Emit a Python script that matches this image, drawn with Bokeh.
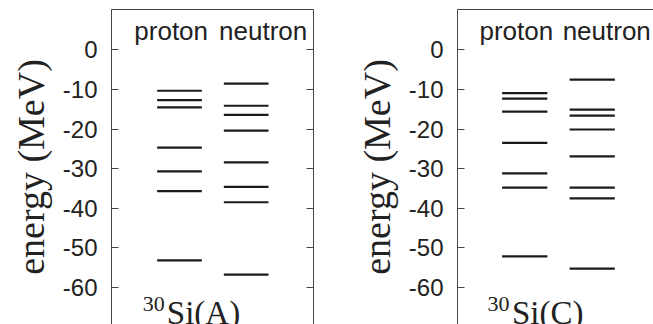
from bokeh.plotting import figure
from bokeh.models import (Range1d, LinearAxis, FixedTicker, Label, ColumnDataSource,
                          PrintfTickFormatter)
from bokeh.layouts import row
from bokeh.embed import file_html
from bokeh.resources import INLINE

# ---- data (energies in MeV) ----
categories = ["proton", "neutron"]
y_ticks = [0, -10, -20, -30, -40, -50, -60]

si30A_proton = [-10.3, -12.7, -14.5, -24.7, -30.7, -35.7, -53.2]
si30A_neutron = [-8.5, -14.1, -16.4, -20.4, -28.4, -34.6, -38.5, -56.8]
si30C_proton = [-10.9, -12.3, -15.6, -23.5, -31.2, -34.8, -52.2]
si30C_neutron = [-7.5, -15.1, -16.6, -20.1, -26.9, -34.8, -37.5, -55.3]

panel_tags = ["A", "C"]

TEXT = "#222222"
AXIS = "#444444"
SANS = "Liberation Sans"
SERIF = "Liberation Serif"
Y_RANGE = (-69.41, 10.24)
HALF = 0.335
H = 324


def make_panel(proton, neutron, tag, width, min_left, min_right, xr, right_axis, neutron_x):
    p = figure(width=width, height=H, output_backend="svg", toolbar_location=None,
               x_range=Range1d(*xr), y_range=Range1d(*Y_RANGE),
               x_axis_location=None, y_axis_location=None,
               min_border_left=min_left, min_border_right=min_right,
               min_border_top=9, min_border_bottom=0)
    p.outline_line_color = None
    p.grid.visible = False
    p.background_fill_color = "white"
    p.border_fill_color = "white"

    left = LinearAxis(ticker=FixedTicker(ticks=y_ticks, minor_ticks=[]),
                      formatter=PrintfTickFormatter(format="%d"),
                      axis_label="energy (MeV)",
                      axis_label_text_font=SERIF, axis_label_text_font_size="38px",
                      axis_label_text_font_style="normal", axis_label_text_color=TEXT,
                      axis_label_standoff=8,
                      major_label_text_font=SANS, major_label_text_font_size="24px",
                      major_label_text_color=TEXT, major_label_standoff=14,
                      major_tick_in=7, major_tick_out=0, minor_tick_in=0, minor_tick_out=0,
                      axis_line_color=AXIS, major_tick_line_color=AXIS)
    p.add_layout(left, "left")

    if right_axis:
        r = LinearAxis(ticker=FixedTicker(ticks=y_ticks, minor_ticks=[]),
                       major_label_text_font_size="1px", major_label_standoff=0,
                       major_label_text_color=None, major_label_text_alpha=0,
                       major_tick_in=7, major_tick_out=0, minor_tick_in=0, minor_tick_out=0,
                       axis_line_color=AXIS, major_tick_line_color=AXIS)
        p.add_layout(r, "right")

    top = LinearAxis(ticker=FixedTicker(ticks=[], minor_ticks=[]),
                     major_label_text_font_size="1px", major_label_standoff=0,
                     major_label_text_color=None, major_label_text_alpha=0,
                     major_tick_in=0, major_tick_out=0, minor_tick_in=0, minor_tick_out=0,
                     axis_line_color=AXIS)
    p.add_layout(top, "above")

    for i, levels in enumerate([proton, neutron]):
        src = ColumnDataSource(dict(x0=[i - HALF] * len(levels),
                                    x1=[i + HALF] * len(levels),
                                    y=levels))
        p.segment(x0="x0", y0="y", x1="x1", y1="y", source=src,
                  line_color="#1a1a1a", line_width=2.2)

    for name, xc in zip(categories, [-0.125, neutron_x]):
        p.add_layout(Label(x=xc, y=4.9, text=name, text_align="center",
                           text_baseline="alphabetic", text_font=SANS,
                           text_font_size="26px", text_color=TEXT))

    p.add_layout(Label(x=-0.55, y=-64.1, text="30", text_align="left",
                       text_baseline="alphabetic", text_font=SERIF,
                       text_font_size="22px", text_color=TEXT))
    p.add_layout(Label(x=-0.19, y=-66.6, text="Si(%s)" % tag, text_align="left",
                       text_baseline="alphabetic", text_font=SERIF,
                       text_font_size="33px", text_color=TEXT))
    return p


p1 = make_panel(si30A_proton, si30A_neutron, panel_tags[0], 323, 111, 10,
                (-1.02, 2.01), True, 1.255)
p2 = make_panel(si30C_proton, si30C_neutron, panel_tags[1], 330, 134, 0,
                (-0.996, 1.908), False, 1.215)

layout = row(p1, p2)
open("out.html", "w").write(file_html(layout, INLINE))
